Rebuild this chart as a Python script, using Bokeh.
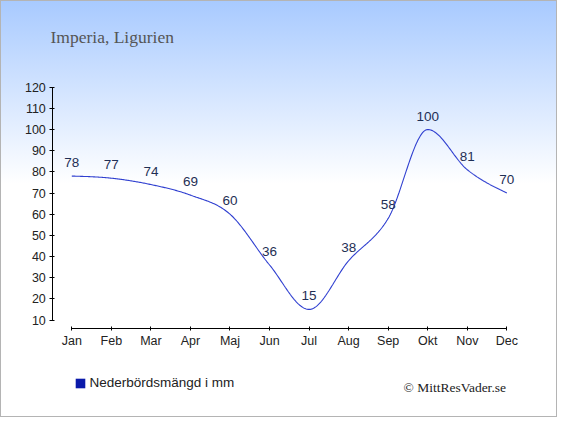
import numpy as np
from bokeh.plotting import figure
from bokeh.models import Range1d, FixedTicker, Label, Legend, LegendItem, ColumnDataSource
from bokeh.core.properties import value
from bokeh.embed import file_html
from bokeh.resources import INLINE

# ---- data ----
months = ["Jan", "Feb", "Mar", "Apr", "Maj", "Jun", "Jul", "Aug", "Sep", "Okt", "Nov", "Dec"]
precip = [78, 77, 74, 69, 60, 36, 15, 38, 58, 100, 81, 70]
y_ticks = [10, 20, 30, 40, 50, 60, 70, 80, 90, 100, 110, 120]
title_text = "Imperia, Ligurien"
legend_text = "Nederbördsmängd i mm"
credit_text = "© MittResVader.se"

xs = np.arange(len(months), dtype=float)
ys = np.array(precip, dtype=float)


def monotone_curve(x, y, n=40):
    """Monotone cubic (Fritsch-Carlson, like d3.curveMonotoneX) rendering of the series."""
    h = np.diff(x)
    s = np.diff(y) / h
    t = np.zeros_like(y)
    for k in range(1, len(y) - 1):
        s0, s1 = s[k - 1], s[k]
        if s0 * s1 <= 0:
            t[k] = 0.0
        else:
            p_ = (s0 * h[k] + s1 * h[k - 1]) / (h[k - 1] + h[k])
            t[k] = (np.sign(s0) + np.sign(s1)) * min(abs(s0), abs(s1), 0.5 * abs(p_))
    t[0] = (3 * s[0] - t[1]) / 2
    t[-1] = (3 * s[-1] - t[-2]) / 2
    cx, cy = [], []
    for k in range(len(y) - 1):
        u = np.linspace(0, 1, n, endpoint=(k == len(y) - 2))
        h00 = 2 * u**3 - 3 * u**2 + 1
        h10 = u**3 - 2 * u**2 + u
        h01 = -2 * u**3 + 3 * u**2
        h11 = u**3 - u**2
        cx.extend(x[k] + u * h[k])
        cy.extend(h00 * y[k] + h10 * h[k] * t[k] + h01 * y[k + 1] + h11 * h[k] * t[k + 1])
    return cx, cy


cx, cy = monotone_curve(xs, ys)

W, H = 557, 417  # canvas (plus 1px css border each side -> 559 x 419)

p = figure(
    width=W, height=H,
    output_backend="svg", toolbar_location=None,
    x_range=Range1d(-1.7775, 12.306), y_range=Range1d(-36.54, 160.49),
    min_border=0,
)
p.title.visible = False
p.styles = {
    "background": "linear-gradient(to bottom, #a8caff 0%, #ffffff 44%, #ffffff 100%)",
    "border": "1px solid #b4b4b4",
}
p.background_fill_alpha = 0
p.border_fill_alpha = 0
p.outline_line_color = None
p.grid.visible = False

# axes (placed inside the frame at fixed positions)
for ax in (p.xaxis[0], p.yaxis[0]):
    ax.axis_line_color = "#000000"
    ax.major_tick_line_color = "#000000"
    ax.minor_tick_line_color = None
    ax.major_label_text_font = "Liberation Sans"
    ax.major_label_text_font_size = "12.5px"
    ax.major_label_text_color = "#222222"
    ax.major_label_text_font_style = "normal"

p.yaxis.ticker = FixedTicker(ticks=y_ticks)
p.yaxis.bounds = (y_ticks[0], y_ticks[-1])
p.yaxis.fixed_location = -0.48
p.yaxis.major_tick_in = 2
p.yaxis.major_tick_out = 3
p.yaxis.major_label_standoff = 4

p.xaxis.ticker = FixedTicker(ticks=list(range(len(months))))
p.xaxis.major_label_overrides = {i: m for i, m in enumerate(months)}
p.xaxis.bounds = (0, len(months) - 1)
p.xaxis.fixed_location = 5.75
p.xaxis.major_tick_in = 2
p.xaxis.major_tick_out = 2
p.xaxis.major_label_standoff = 3

# line
p.line(cx, cy, line_color="#2f3fd0", line_width=1.1)

# value labels
src = ColumnDataSource(dict(x=xs, y=ys, t=[str(v) for v in precip]))
p.text(x="x", y="y", text="t", source=src, text_align="center", text_baseline="alphabetic",
       y_offset=-13.5, text_font=value("Liberation Sans"), text_font_size="13.5px", text_color="#1f2f55")

# legend (square swatch)
sw = p.quad(left=[np.nan], right=[np.nan], top=[np.nan], bottom=[np.nan],
            fill_color="#0a1aaa", line_color=None)
legend = Legend(items=[LegendItem(label=legend_text, renderers=[sw])],
                location=(72.5, 27.7), orientation="horizontal",
                glyph_width=12, glyph_height=12, label_height=12, label_standoff=4,
                padding=0, margin=0, spacing=0,
                background_fill_alpha=0, border_line_color=None,
                label_text_font="Liberation Sans", label_text_font_size="13.5px",
                label_text_color="#222222")
p.add_layout(legend, "center")

# title and credit
p.add_layout(Label(x=49, y=381.7, x_units="screen", y_units="screen", text=title_text,
                   text_font="Liberation Serif", text_font_size="17.5px", text_color="#555555",
                   text_baseline="alphabetic"))
p.add_layout(Label(x=402, y=31, x_units="screen", y_units="screen", text=credit_text,
                   text_font="Liberation Serif", text_font_size="13.5px", text_color="#222222",
                   text_baseline="alphabetic"))

open("out.html", "w").write(file_html(p, INLINE))
